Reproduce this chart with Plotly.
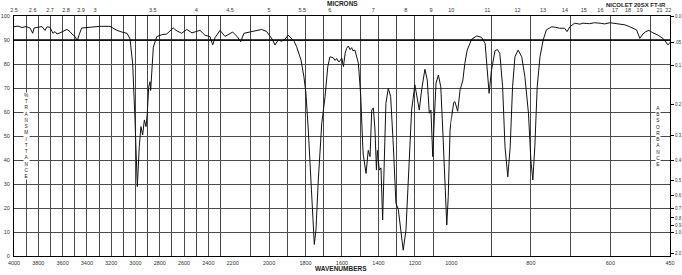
import plotly.graph_objects as go

# ---- data ----
wavenumber = [4000, 3967, 3934, 3901, 3868, 3846, 3835, 3802, 3770, 3745, 3728, 3704, 3679, 3662,
              3646, 3621, 3588, 3564, 3539, 3523, 3498, 3479, 3465, 3443, 3374, 3292, 3210, 3152,
              3111, 3070, 3045, 3023, 3004, 2985, 2969, 2955, 2941, 2927, 2913, 2903, 2891, 2880,
              2875, 2866, 2853, 2825, 2784, 2743, 2716, 2689, 2666, 2620, 2578, 2535, 2469, 2428,
              2387, 2364, 2345, 2304, 2263, 2228, 2200, 2175, 2156, 2138, 2096, 2072, 2041, 2013,
              1995, 1980, 1968, 1950, 1931, 1913, 1895, 1876, 1863, 1849, 1825, 1809, 1798, 1785,
              1766, 1752, 1743, 1730, 1711, 1693, 1678, 1666, 1648, 1638, 1629, 1622, 1614, 1601,
              1592, 1583, 1575, 1565, 1556, 1547, 1540, 1529, 1510, 1497, 1486, 1483, 1468, 1456,
              1446, 1437, 1428, 1419, 1411, 1406, 1395, 1386, 1377, 1370, 1359, 1346, 1333, 1318,
              1304, 1291, 1272, 1264, 1249, 1231, 1218, 1200, 1187, 1176, 1163, 1145, 1132, 1121,
              1112, 1102, 1093, 1084, 1071, 1058, 1047, 1035, 1025, 1017, 1007, 1000, 994, 991,
              984, 978, 971, 966, 960, 949, 936, 924, 915, 910, 905, 899, 890, 884, 878, 871, 865,
              858, 852, 846, 840, 832, 823, 815, 806, 800, 795, 790, 784, 777, 769, 761, 748, 738,
              728, 715, 709, 702, 690, 677, 669, 652, 640, 626, 614, 601, 589, 576, 563, 551, 534,
              526, 518, 511, 503, 493, 480, 468, 455, 450]
transmittance = [95.5, 95.8, 95.2, 95.6, 95.0, 92.8, 95.0, 95.3, 95.6, 94.0, 95.5, 95.3, 92.8, 93.5,
                 92.5, 93.0, 94.0, 94.4, 93.5, 92.5, 91.5, 89.7, 92.0, 95.0, 95.3, 95.7, 95.7, 94.0,
                 93.3, 92.8, 90.5, 80.0, 56.7, 28.9, 45.5, 53.9, 50.4, 56.7, 53.9, 59.5, 70.5, 72.6,
                 69.0, 76.0, 87.0, 91.4, 92.2, 92.5, 93.7, 95.0, 94.0, 92.8, 94.4, 93.0, 94.0, 92.0,
                 91.4, 88.0, 91.0, 94.0, 91.5, 92.5, 93.3, 91.4, 89.3, 92.8, 93.5, 93.8, 94.4, 93.5,
                 91.5, 90.0, 87.9, 90.0, 89.5, 90.3, 92.0, 90.7, 89.5, 87.2, 81.7, 74.7, 67.9, 52.5,
                 27.5, 4.8, 10.8, 31.7, 55.3, 66.4, 78.9, 83.0, 82.6, 81.5, 82.3, 81.2, 81.0, 82.5,
                 78.9, 84.4, 86.5, 87.5, 86.0, 86.8, 85.5, 85.8, 80.3, 66.4, 45.5, 42.0, 34.4, 44.0,
                 41.4, 60.8, 61.7, 52.5, 35.8, 44.0, 35.8, 36.7, 15.0, 38.6, 63.6, 69.9, 66.4, 45.5,
                 22.0, 19.4, 5.3, 2.4, 10.8, 38.6, 60.8, 71.3, 66.4, 60.8, 69.2, 77.8, 73.3, 59.5,
                 60.8, 41.4, 58.0, 72.0, 75.4, 70.5, 52.5, 27.5, 12.9, 24.7, 52.5, 57.0, 64.0, 64.3,
                 60.3, 69.2, 73.3, 80.3, 85.8, 90.3, 91.7, 91.1, 88.6, 78.9, 67.8, 77.5, 85.6, 86.0,
                 84.4, 70.5, 45.5, 33.0, 45.5, 70.5, 83.0, 85.8, 83.0, 74.7, 59.5, 40.0, 31.7, 45.5,
                 70.5, 83.0, 90.0, 94.2, 95.5, 95.3, 94.9, 94.9, 93.5, 95.5, 97.0, 96.6, 97.0, 96.8,
                 97.2, 97.0, 96.7, 97.2, 97.0, 96.8, 96.3, 95.5, 94.2, 90.7, 92.5, 93.5, 94.0, 93.0,
                 92.0, 90.7, 88.0, 89.0]

# axis segments (wavenumber ranges) and their labelled ticks
segment_ranges = [(4000, 2200), (2200, 1000), (1000, 450)]
segment_labels = [
    [4000, 3800, 3600, 3400, 3200, 3000, 2800, 2600, 2400, 2200],
    [2000, 1800, 1600, 1400, 1200, 1000],
    [800, 600, 450],
]
micron_ticks = [2.5, 2.6, 2.7, 2.8, 2.9, 3, 3.5, 4, 4.5, 5, 5.5, 6, 7, 8, 9, 10,
                11, 12, 13, 14, 15, 16, 17, 18, 19, 21, 22]
transmittance_ticks = [0, 10, 20, 30, 40, 50, 60, 70, 80, 90, 100]
absorbance_ticks = [0.0, 0.05, 0.1, 0.2, 0.3, 0.4, 0.5, 0.6, 0.7, 0.8, 0.9, 1.0, 2.0]
absorbance_labels = ["0.0", ".05", "0.1", "0.2", "0.3", "0.4", "0.5", "0.6", "0.7",
                     "0.8", "0.9", "1.0", "2.0"]

GRID = "#4a4a4a"
TXT = "#333333"
FONT = "Liberation Sans, Arial, sans-serif"

fig = go.Figure()
layout = dict(
    width=682, height=275,
    margin=dict(l=14, r=12, t=16, b=19, autoexpand=False),
    paper_bgcolor="white", plot_bgcolor="white",
    showlegend=False,
    font=dict(family=FONT, size=6, color=TXT),
)

n = len(segment_ranges)
for i, (hi, lo) in enumerate(segment_ranges):
    bx = "x" if i == 0 else f"x{i + 1}"
    tx = f"x{i + 1 + n}"
    fig.add_trace(go.Scatter(x=wavenumber, y=transmittance, xaxis=bx, yaxis="y",
                             mode="lines", line=dict(color="#111111", width=1),
                             hoverinfo="skip"))
    fig.add_trace(go.Scatter(x=[hi, lo], y=[None, None], xaxis=tx, yaxis="y",
                             mode="lines", hoverinfo="skip"))
    grid = list(range(hi, lo - 1, -100))
    if lo not in grid:
        grid.append(lo)
    labels = [str(v) if (v in segment_labels[i]) else "" for v in grid]
    layout["xaxis" if i == 0 else f"xaxis{i + 1}"] = dict(
        domain=[i / n, (i + 1) / n], range=[hi, lo], anchor="y", automargin=False,
        tickmode="array", tickvals=grid, ticktext=labels, ticks="",
        showgrid=True, gridcolor=GRID, gridwidth=1, zeroline=False,
        showline=True, linecolor="black", linewidth=1,
        tickfont=dict(size=5.5, color=TXT), ticklabelstandoff=1,
    )
    mt = [m for m in micron_ticks if lo <= 10000 / m <= hi and not (i > 0 and 10000 / m == hi)]
    layout[f"xaxis{i + 1 + n}"] = dict(
        overlaying=bx, side="top", anchor="y", range=[hi, lo], automargin=False,
        tickmode="array", tickvals=[10000 / m for m in mt],
        ticktext=[("%g" % m) for m in mt], ticks="",
        showgrid=False, zeroline=False, showline=True, linecolor="black", linewidth=1,
        tickfont=dict(size=5.5, color=TXT), ticklabelstandoff=1,
    )

# invisible trace so the absorbance axis is drawn
fig.add_trace(go.Scatter(x=[1000, 450], y=[None, None], xaxis=f"x{n}", yaxis="y2",
                         mode="lines", hoverinfo="skip"))

layout["yaxis"] = dict(
    range=[0, 100], anchor="x", tickmode="array", tickvals=transmittance_ticks,
    ticks="", showgrid=True, gridcolor=GRID, gridwidth=1, zeroline=False, automargin=False,
    showline=True, linecolor="black", linewidth=1,
    tickfont=dict(size=5.5, color=TXT), ticklabelstandoff=2,
)
layout["yaxis2"] = dict(
    range=[0, 100], overlaying="y", side="right", anchor=f"x{n}", automargin=False,
    tickmode="array", tickvals=[100 * 10 ** (-a) for a in absorbance_ticks],
    ticktext=absorbance_labels, ticks="outside", ticklen=3, tickcolor="black",
    showgrid=False, zeroline=False, showline=True, linecolor="black", linewidth=1,
    tickfont=dict(size=4.5, color=TXT), ticklabelstandoff=0,
)

fig.update_layout(**layout)

# bold 90% line
fig.add_shape(type="line", xref="paper", yref="y", x0=0, x1=1, y0=90, y1=90,
              line=dict(color="black", width=1.6))

fig.add_annotation(text="<b>MICRONS</b>", xref="paper", yref="paper", x=0.5015, y=1.05,
                   showarrow=False, font=dict(size=6.5, color="#222"), yanchor="middle")
fig.add_annotation(text="<b>NICOLET 20SX FT-IR</b>", xref="paper", yref="paper", x=0.997, y=1.046,
                   showarrow=False, font=dict(size=6, color="#222"), xanchor="right", yanchor="middle")
fig.add_annotation(text="<b>WAVENUMBERS</b>", xref="paper", yref="paper", x=0.499, y=-0.054,
                   showarrow=False, font=dict(size=6.5, color="#222"), yanchor="middle")
fig.add_annotation(text="<br>".join(list("%TRANSMITTANCE")), xref="paper", yref="paper",
                   x=0.019, y=0.498, showarrow=False, font=dict(size=4.8, color="#222222"),
                   bgcolor="white", borderpad=0, xanchor="center", yanchor="middle")
fig.add_annotation(text="<br>".join(list("ABSORBANCE")), xref="paper", yref="paper",
                   x=0.982, y=0.5, showarrow=False, font=dict(size=4.8, color="#222222"),
                   bgcolor="white", borderpad=0, xanchor="center", yanchor="middle")

fig.write_html("out.html")
